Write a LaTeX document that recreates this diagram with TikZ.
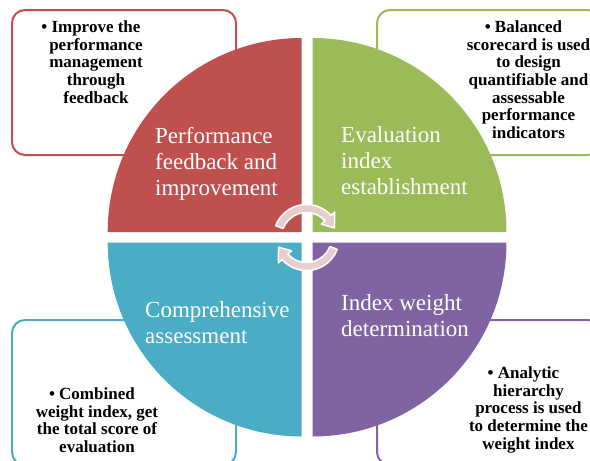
\documentclass[tikz,border=0pt]{standalone}
\usepackage{fontspec}
\setmainfont{Liberation Serif}
\usetikzlibrary{calc}
\definecolor{cRed}{HTML}{C0504D}
\definecolor{cGreen}{HTML}{9BBB59}
\definecolor{cBlue}{HTML}{4BACC6}
\definecolor{cPurple}{HTML}{8064A2}
\definecolor{arrowPink}{HTML}{E8CDCF}
\begin{document}
\begin{tikzpicture}[x=1pt,y=-1pt,
  box/.style={draw, line width=2pt, rounded corners=13pt, fill=white},
  btext/.style={font=\fontsize{17}{17.7}\selectfont\bfseries, align=center, anchor=north, inner sep=0pt},
  qlabel/.style={font=\fontsize{23}{26}\selectfont, text=white, align=left, anchor=north west, inner sep=0pt},
  cyc/.style={fill=arrowPink, draw=white, line width=1.5pt, line join=round}]
\useasboundingbox (0,0) rectangle (590,461);
\clip (0,0) rectangle (590,461);
% text boxes
\draw[box, draw=cRed] (12,10) rectangle (236,155);
\draw[box, draw=cGreen] (377,10) rectangle (601,155);
\draw[box, draw=cBlue] (12,320) rectangle (236,465);
\draw[box, draw=cPurple] (377,320) rectangle (601,465);
% quadrants
\fill[cRed] (301.7,232) -- ++(180:194) arc[start angle=180, end angle=270, radius=194] -- cycle;
\fill[cGreen] (312.5,232) -- ++(0:194) arc[start angle=0, end angle=-90, radius=194] -- cycle;
\fill[cBlue] (301.7,242.5) -- ++(180:194) arc[start angle=180, end angle=90, radius=194] -- cycle;
\fill[cPurple] (312.5,242.5) -- ++(0:194) arc[start angle=0, end angle=90, radius=194] -- cycle;
% quadrant labels
\node[qlabel] (lRed) at (155,127.3) {Performance\\feedback and\\improvement};
\node[qlabel] (lGreen) at (341,126.3) {Evaluation\\index\\establishment};
\node[qlabel] (lBlue) at (145,301.3) {Comprehensive\\assessment};
\node[qlabel] (lPurple) at (341,294.3) {Index weight\\determination};
% box texts
\node[btext] (tRed) at (96,20.5) {\llap{\textbullet\ }Improve the\\performance\\management\\through\\feedback};
\node[btext] (tGreen) at (528.5,20.5) {\llap{\textbullet\ }Balanced\\scorecard is used\\to design\\quantifiable and\\assessable\\performance\\indicators};
\node[btext] (tBlue) at (97,387.5) {\llap{\textbullet\ }Combined\\weight index, get\\the total score of\\evaluation};
\node[btext] (tPurple) at (528.5,366.5) {\llap{\textbullet\ }Analytic\\hierarchy\\process is used\\to determine the\\weight index};
% circular arrows
\coordinate (C) at (306.5,237.5);
\draw[cyc] ($(C)+(-159:33)$) arc[start angle=-159, end angle=-42, radius=33]
  -- ($(C)+(-42:38)$) -- ($(C)+(-19:29.5)$) -- ($(C)+(-42:20)$) -- ($(C)+(-42:25)$)
  arc[start angle=-42, end angle=-159, radius=25] -- cycle;
\draw[cyc] ($(C)+(21:33)$) arc[start angle=21, end angle=138, radius=33]
  -- ($(C)+(138:38)$) -- ($(C)+(161:29.5)$) -- ($(C)+(138:20)$) -- ($(C)+(138:25)$)
  arc[start angle=138, end angle=21, radius=25] -- cycle;
\end{tikzpicture}
\end{document}
